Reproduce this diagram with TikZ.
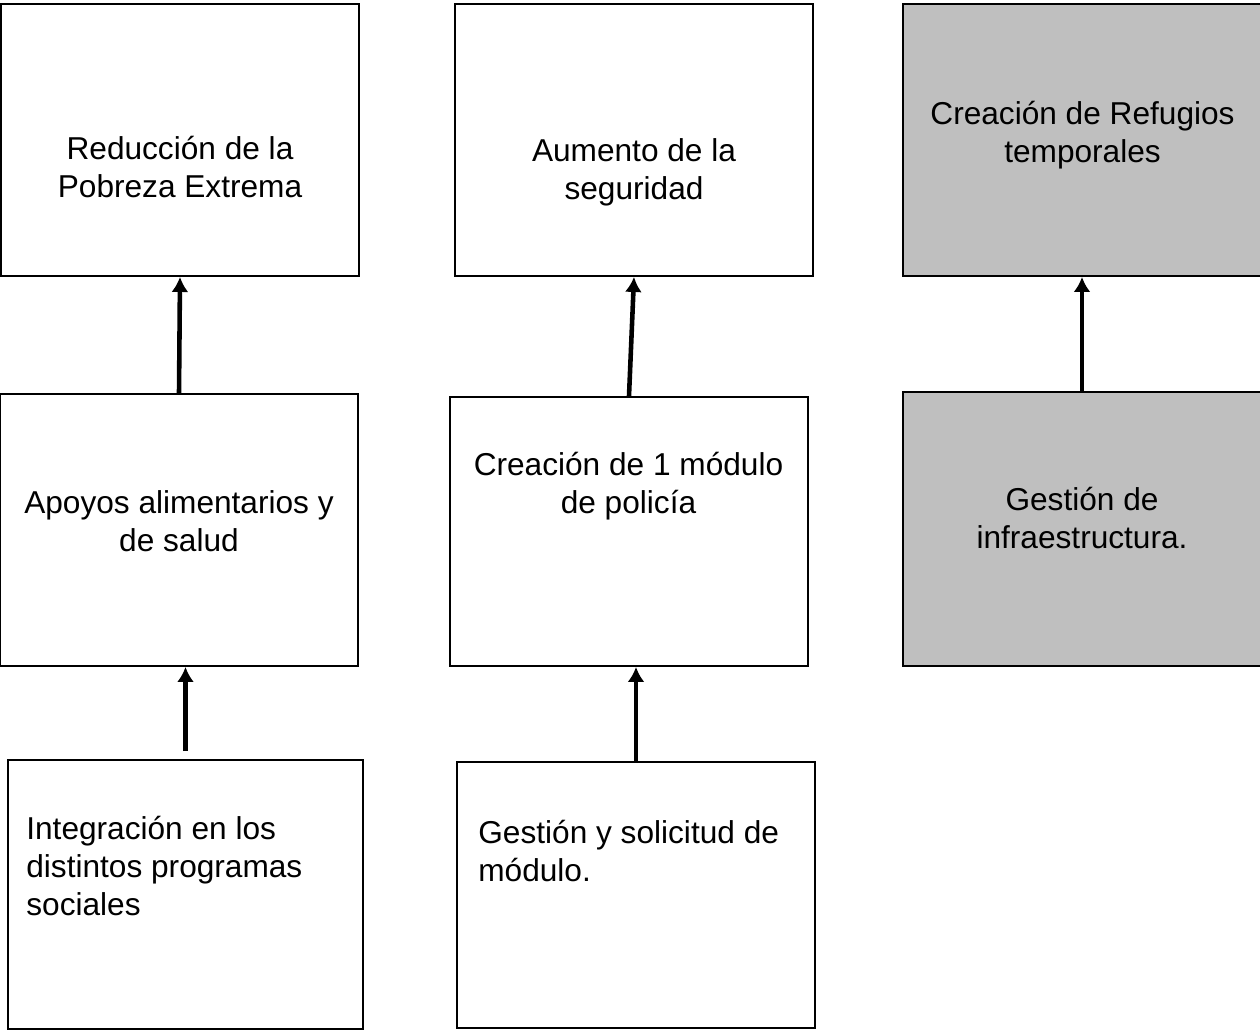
\documentclass[tikz,border=0pt]{standalone}
\usepackage{fontspec}
\setmainfont{Liberation Sans}
\usetikzlibrary{arrows.meta,positioning}

\begin{document}
\begin{tikzpicture}[
  font=\fontsize{18pt}{21.6pt}\selectfont, >={Latex[length=3mm,width=3.4mm]},
  goal/.style={rectangle, minimum width=7.16cm, minimum height=5.44cm, inner sep=0pt, draw=black, line width=1.1pt, fill=white},
  shaded/.style={goal, fill=gray!50},
  lbl/.style={anchor=base, align=center, inner sep=0pt},
  lbll/.style={anchor=base west, align=left, inner sep=0pt},
  arr/.style={->, line width=2.6pt}
]
\useasboundingbox (0,0) rectangle (25.2,-20.6);
\clip (0,0) rectangle (25.2,-20.6);

% first column
\node[goal] (a1) at (3.6,-2.8) {};
\node[goal] (b1) at (3.58,-10.6) {};
\node[goal, minimum width=7.1cm, minimum height=5.38cm] (c1) at (3.71,-17.89) {};

% second column
\node[goal] (a2) at (12.68,-2.8) {};
\node[goal, minimum height=5.38cm] (b2) at (12.58,-10.63) {};
\node[goal, minimum height=5.32cm] (c2) at (12.72,-17.9) {};

% third column
\node[shaded] (a3) at (21.64,-2.8) {};
\node[shaded, minimum height=5.48cm] (b3) at (21.64,-10.58) {};

% texts (base = last line)
\node[lbl] (ta1) at (3.6,-3.94) {Reducción de la\\Pobreza Extrema};
\node[lbl] (tb1) at (3.58,-11.02) {Apoyos alimentarios y\\de salud};
\node[lbll] (tc1) at (0.52,-18.3) {Integración en los\\distintos programas\\sociales};

\node[lbl] (ta2) at (12.68,-3.98) {Aumento de la\\seguridad};
\node[lbl] (tb2) at (12.57,-10.26) {Creación de 1 módulo\\de policía};
\node[lbll] (tc2) at (9.56,-17.62) {Gestión y solicitud de\\módulo.};

\node[lbl] (ta3) at (21.65,-3.24) {Creación de Refugios\\temporales};
\node[lbl] (tb3) at (21.64,-10.96) {Gestión de\\infraestructura.};

\draw[arr, shorten <=0.16cm] (c1.north) -- (c1.north |- b1.south);
\draw[arr] (b1.north) -- (a1.south);
\draw[arr] (c2.north) -- (c2.north |- b2.south);
\draw[arr] (b2.north) -- (a2.south);
\draw[arr] (b3.north) -- (a3.south);
\end{tikzpicture}
\end{document}
